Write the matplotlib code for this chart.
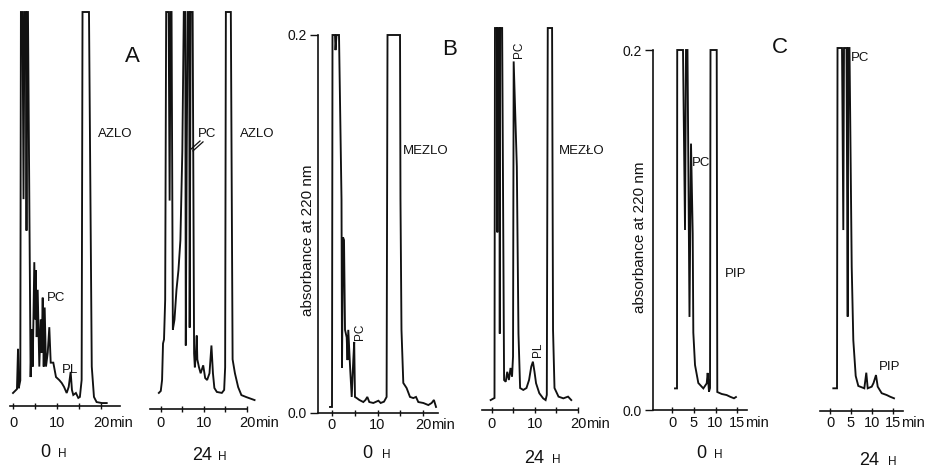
import matplotlib
matplotlib.use("Agg")
import matplotlib.pyplot as plt
from matplotlib.lines import Line2D

plt.rcParams['font.family'] = ['Liberation Sans', 'DejaVu Sans']

W, H = 930, 470

# retention time (min) and absorbance at 220 nm; 0.2 = off scale
a0_time = [0.0, 0.9, 1.14, 1.3, 1.66, 1.8, 2.16, 2.39, 2.6, 2.95, 3.07, 3.18, 3.4, 4.0,
           4.25, 4.48, 4.84, 5.07, 5.16, 5.39, 5.61, 5.98, 6.3, 6.52, 6.75, 6.98, 7.2,
           7.5, 7.89, 8.25, 8.57, 9.16, 9.77, 10.5, 11.07, 11.6, 12.2, 12.66, 13.1,
           13.4, 13.7, 14.3, 14.84, 15.2, 15.6, 15.8, 17.27, 17.9, 18.4, 19.0, 20.2, 21.3]
a0_abs = [0.0066, 0.0086, 0.029, 0.009, 0.013, 0.2, 0.2, 0.105, 0.2, 0.2, 0.089, 0.2,
          0.2, 0.0147, 0.039, 0.020, 0.073, 0.044, 0.069, 0.035, 0.059, 0.020, 0.044,
          0.027, 0.055, 0.020, 0.050, 0.020, 0.027, 0.040, 0.022, 0.022, 0.0147, 0.0132,
          0.0117, 0.0097, 0.0066, 0.0097, 0.0173, 0.0081, 0.0056, 0.0066, 0.0041, 0.0046,
          0.0132, 0.2, 0.2, 0.020, 0.0046, 0.002, 0.0015, 0.0015]

a24_time = [-0.45, 0.0, 0.3, 0.52, 0.75, 1.02, 1.25, 1.82, 2.05, 2.27, 2.5, 2.8, 3.18,
            3.64, 4.1, 4.55, 5.0, 5.34, 5.68, 5.8, 6.02, 6.25, 6.6, 6.7, 6.93, 7.39,
            7.73, 7.9, 8.1, 8.34, 8.48, 8.86, 9.25, 9.84, 10.3, 10.75, 11.3, 11.75,
            12.1, 12.43, 13.0, 14.16, 14.7, 14.93, 15.1, 16.25, 16.66, 17.2, 17.95,
            18.7, 19.84, 21.75]
a24_abs = [0.0081, 0.0091, 0.0146, 0.033, 0.035, 0.055, 0.2, 0.2, 0.105, 0.2, 0.2,
           0.040, 0.045, 0.060, 0.070, 0.085, 0.130, 0.2, 0.2, 0.032, 0.13, 0.2, 0.2,
           0.041, 0.2, 0.2, 0.028, 0.021, 0.026, 0.037, 0.025, 0.021, 0.018, 0.022,
           0.0156, 0.0146, 0.018, 0.032, 0.018, 0.0106, 0.0086, 0.0081, 0.0096, 0.021,
           0.2, 0.2, 0.025, 0.018, 0.011, 0.007, 0.006, 0.0045]

b0_time = [-0.44, 0.0, 0.11, 0.66, 0.77, 0.99, 1.54, 2.09, 2.2, 2.42, 2.64, 2.86, 3.23,
           3.41, 3.58, 3.96, 4.33, 4.68, 4.88, 5.05, 5.43, 6.0, 6.88, 7.36, 7.76, 8.2,
           9.08, 10.2, 10.7, 11.43, 12.0, 12.2, 14.95, 15.05, 15.27, 15.67, 16.4, 17.14,
           17.87, 18.46, 18.97, 20.07, 21.17, 21.9, 22.4, 22.86]
b0_abs = [0.0032, 0.0032, 0.2, 0.2, 0.192, 0.2, 0.2, 0.113, 0.024, 0.093, 0.0915, 0.044,
          0.040, 0.028, 0.044, 0.025, 0.0085, 0.028, 0.0376, 0.0085, 0.0079, 0.0069,
          0.0058, 0.0069, 0.0085, 0.0058, 0.0053, 0.0065, 0.0053, 0.006, 0.0085, 0.2,
          0.2, 0.113, 0.044, 0.0159, 0.0132, 0.0085, 0.0079, 0.0085, 0.0058, 0.0053,
          0.0042, 0.0053, 0.0069, 0.0032]

b24_time = [-0.22, 0.67, 0.78, 1.22, 1.33, 1.44, 1.78, 1.89, 2.0, 2.44, 2.89, 3.27,
            3.62, 4.0, 4.38, 4.73, 4.96, 5.11, 5.84, 6.22, 6.6, 7.33, 8.07, 8.67, 9.18,
            9.56, 9.93, 10.29, 11.04, 11.93, 12.5, 12.78, 13.0, 14.0, 14.22, 14.56,
            15.49, 16.6, 17.7, 18.44]
b24_abs = [0.0052, 0.0063, 0.2, 0.2, 0.093, 0.2, 0.2, 0.040, 0.2, 0.2, 0.0157, 0.0148,
           0.020, 0.0157, 0.022, 0.0174, 0.028, 0.1825, 0.1275, 0.040, 0.0115, 0.0105,
           0.0115, 0.0157, 0.0227, 0.0253, 0.020, 0.014, 0.0088, 0.0061, 0.0052, 0.0079,
           0.2, 0.2, 0.042, 0.0115, 0.007, 0.0061, 0.007, 0.0052]

c0_time = [0.69, 1.15, 1.2, 2.53, 2.99, 3.22, 3.56, 4.02, 4.37, 4.76, 4.9, 5.29, 6.05,
           7.2, 7.98, 8.2, 8.5, 8.74, 8.85, 10.28, 10.41, 11.43, 12.57, 13.33, 14.25, 14.7]
c0_abs = [0.012, 0.012, 0.2, 0.2, 0.1, 0.2, 0.2, 0.0517, 0.148, 0.098, 0.043, 0.025,
          0.015, 0.012, 0.0148, 0.0206, 0.0102, 0.0122, 0.2, 0.2, 0.01, 0.0089, 0.0083,
          0.0074, 0.0065, 0.0072]

c24_time = [0.79, 1.67, 1.79, 2.86, 3.17, 3.33, 3.93, 4.21, 4.36, 4.64, 5.17, 5.55,
            6.12, 6.74, 8.17, 8.64, 8.98, 9.93, 10.36, 10.95, 11.36, 12.31, 13.5, 14.29, 15.24]
c24_abs = [0.0125, 0.0125, 0.2, 0.2, 0.0997, 0.2, 0.2, 0.052, 0.2, 0.2, 0.0795, 0.039,
           0.0193, 0.0138, 0.0125, 0.0211, 0.0125, 0.0134, 0.0154, 0.0198, 0.0134,
           0.0098, 0.0088, 0.0079, 0.007]

ticks_20 = [0, 10, 20]
minor_20 = [5, 15]
ticks_15 = [0, 5, 10, 15]

# layout in pixels: axis line x0..x1 at ybot, top of scale at ytop,
# pixel of t=0 and pixels per minute, baseline of tick labels
panels = [
    dict(t=a0_time, a=a0_abs, x0=10, x1=120, ybot=406, ytop=12, tz=13, ppm=4.4,
         ticks=ticks_20, minor=minor_20, lab_y=427, yaxis=False),
    dict(t=a24_time, a=a24_abs, x0=150, x1=247, ybot=409, ytop=12, tz=161, ppm=4.4,
         ticks=ticks_20, minor=minor_20, lab_y=427, yaxis=False),
    dict(t=b0_time, a=b0_abs, x0=318, x1=438, ybot=413, ytop=35, tz=332, ppm=4.55,
         ticks=ticks_20, minor=minor_20, lab_y=429, yaxis=True),
    dict(t=b24_time, a=b24_abs, x0=482, x1=578, ybot=410, ytop=28, tz=492, ppm=4.5,
         ticks=ticks_20, minor=minor_20, lab_y=428, yaxis=False),
    dict(t=c0_time, a=c0_abs, x0=653, x1=747, ybot=410, ytop=50, tz=672, ppm=4.35,
         ticks=ticks_15, minor=[], lab_y=427, yaxis=True),
    dict(t=c24_time, a=c24_abs, x0=820, x1=903, ybot=411, ytop=48, tz=830, ppm=4.2,
         ticks=ticks_15, minor=[], lab_y=427, yaxis=False),
]

ink = '#111111'
fig = plt.figure(figsize=(W / 100, H / 100), dpi=100)


def fx(x):
    return x / W


def fy(y):
    return 1 - y / H


for p in panels:
    ax = fig.add_axes([fx(p['x0']), fy(p['ybot']), (p['x1'] - p['x0']) / W,
                       (p['ybot'] - p['ytop']) / H])
    ax.set_facecolor('none')
    ax.plot(p['t'], p['a'], color=ink, lw=1.35, clip_on=False, solid_joinstyle='miter')
    ax.set_xlim((p['x0'] - p['tz']) / p['ppm'], (p['x1'] - p['tz']) / p['ppm'])
    ax.set_ylim(0, 0.2)
    for s in ['top', 'right']:
        ax.spines[s].set_visible(False)
    ax.spines['bottom'].set_linewidth(1.2)
    ax.spines['bottom'].set_color(ink)
    ax.set_xticks(p['ticks'])
    ax.set_xticks(p['minor'], minor=True)
    ax.tick_params(axis='x', which='both', direction='inout', length=4, width=1,
                   color=ink, labelbottom=False)
    xt = ax.get_xaxis_transform()
    for v in p['ticks']:
        ax.annotate(str(v), xy=(v, 0), xycoords=xt, xytext=(0, -(p['lab_y'] - p['ybot'])),
                    textcoords='offset pixels', ha='center', va='baseline', fontsize=10.5,
                    color=ink, annotation_clip=False)
    ax.annotate('min', xy=(p['ticks'][-1], 0), xycoords=xt,
                xytext=(8, -(p['lab_y'] - p['ybot'])), textcoords='offset pixels',
                ha='left', va='baseline', fontsize=10.5, color=ink, annotation_clip=False)
    if p['yaxis']:
        ax.spines['left'].set_linewidth(1.2)
        ax.spines['left'].set_color(ink)
        ax.set_yticks([0, 0.2], ['0.0', '0.2'])
        ax.tick_params(axis='y', direction='out', length=6, width=1, color=ink,
                       labelsize=10, pad=2, labelcolor=ink)
    else:
        ax.spines['left'].set_visible(False)
        ax.set_yticks([])

# y-axis titles sit between the 0.0 and 0.2 labels
fig.text(fx(308), fy(240), 'absorbance at 220 nm', fontsize=11, rotation=90,
         ha='center', va='center', color=ink)
fig.text(fx(640), fy(237), 'absorbance at 220 nm', fontsize=11, rotation=90,
         ha='center', va='center', color=ink)

# panel letters and peak labels
fig.text(fx(132), fy(62), 'A', fontsize=16, ha='center', va='baseline', color=ink)
fig.text(fx(450), fy(55), 'B', fontsize=16, ha='center', va='baseline', color=ink)
fig.text(fx(780), fy(53), 'C', fontsize=16, ha='center', va='baseline', color=ink)

peak_labels = [
    (56, 301, 'PC', 0), (70, 373, 'PL', 0), (115, 137, 'AZLO', 0),
    (207, 137, 'PC', 0), (257, 137, 'AZLO', 0),
    (360, 332, 'PC', 90), (426, 154, 'MEZLO', 0),
    (519, 50, 'PC', 90), (538, 350, 'PL', 90), (582, 154, 'MEZŁO', 0),
    (701, 166, 'PC', 0), (736, 277, 'PIP', 0),
    (860, 61, 'PC', 0), (890, 370, 'PIP', 0),
]
for x, y, s, rot in peak_labels:
    if rot:
        fig.text(fx(x), fy(y), s, fontsize=8.5, rotation=90, ha='center', va='center',
                 color=ink)
    else:
        fig.text(fx(x), fy(y), s, fontsize=9.5, ha='center', va='baseline', color=ink)

# the double stroke pointing at PC in A, 24 h
for dx in (0, 3):
    fig.add_artist(Line2D([fx(190 + dx), fx(200 + dx)], [fy(150 + dx * 0.3), fy(141 + dx * 0.3)],
                          color=ink, lw=0.9))

# sampling time under each chromatogram
times = [(45, 62, 457, '0'), (202, 222, 460, '24'), (367, 386, 458, '0'),
         (534, 556, 463, '24'), (701, 718, 458, '0'), (869, 892, 465, '24')]
for xn, xh, yb, s in times:
    fig.text(fx(xn), fy(yb), s, fontsize=13, ha='center', va='baseline', color=ink)
    fig.text(fx(xh), fy(yb), 'H', fontsize=8.5, ha='center', va='baseline', color=ink)

fig.savefig('out.png', dpi=100)
